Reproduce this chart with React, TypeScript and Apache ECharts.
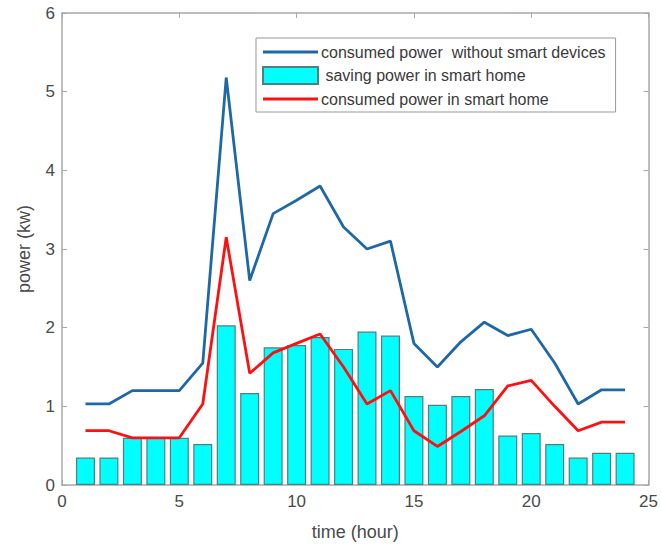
import React, { useEffect, useRef } from "react";
import * as echarts from "echarts";

const hours = [1, 2, 3, 4, 5, 6, 7, 8, 9, 10, 11, 12, 13, 14, 15, 16, 17, 18, 19, 20, 21, 22, 23, 24];
const withoutSmart = [1.03, 1.03, 1.2, 1.2, 1.2, 1.55, 5.18, 2.6, 3.45, 3.62, 3.8, 3.28, 3.0, 3.1, 1.8, 1.5, 1.82, 2.07, 1.9, 1.98, 1.55, 1.03, 1.21, 1.21];
const saving = [0.35, 0.35, 0.6, 0.6, 0.6, 0.52, 2.03, 1.17, 1.75, 1.78, 1.88, 1.73, 1.95, 1.9, 1.13, 1.02, 1.13, 1.22, 0.63, 0.66, 0.52, 0.35, 0.41, 0.41];
const smartHome = [0.69, 0.69, 0.6, 0.6, 0.6, 1.03, 3.15, 1.42, 1.68, 1.8, 1.92, 1.5, 1.03, 1.2, 0.69, 0.49, 0.68, 0.88, 1.26, 1.33, 1.0, 0.69, 0.8, 0.8];

const names = [
  "consumed power  without smart devices",
  " saving power in smart home",
  "consumed power in smart home",
];

const lineIcon = "path://M0,0 L55,0 L55,3.2 L0,3.2 Z";
const boxIcon = "path://M0,0 L55,0 L55,17 L0,17 Z";

export default function App() {
  const ref = useRef<HTMLDivElement>(null);
  useEffect(() => {
    if (!ref.current) return;
    const chart = echarts.init(ref.current, undefined, { renderer: "svg" });
    const frame = "#a8a8a8";
    const txt = "#4a4a4a";
    const font = "Arial, 'Liberation Sans', sans-serif";
    const blue = "#1f68a8";
    const red = "#ff1010";
    const axisCommon = {
      axisLine: { show: true, onZero: false, lineStyle: { color: frame, width: 1.5 } },
      axisTick: { show: true, inside: true, length: 5, lineStyle: { color: frame } },
      splitLine: { show: false },
    };
    chart.setOption({
      animation: false,
      backgroundColor: "#fff",
      textStyle: { fontFamily: font },
      grid: { left: 62, right: 8, top: 13, bottom: 59, containLabel: false },
      legend: {
        orient: "vertical",
        left: 256,
        top: 38,
        width: 400,
        padding: [6, 10, 5, 6],
        itemGap: 6,
        itemWidth: 55,
        itemHeight: 17,
        borderColor: "#999",
        borderWidth: 1,
        borderRadius: 0,
        backgroundColor: "#fff",
        data: [
          { name: names[0], icon: lineIcon, itemStyle: { color: blue } },
          { name: names[1], icon: boxIcon },
          { name: names[2], icon: lineIcon, itemStyle: { color: red } },
        ],
        textStyle: { fontSize: 16, color: "#3a3a3a", fontFamily: font, padding: [0, 0, 0, -2] },
      },
      xAxis: [
        {
          type: "value",
          min: 0,
          max: 25,
          interval: 5,
          name: "time (hour)",
          nameLocation: "middle",
          nameGap: 38,
          nameTextStyle: { fontSize: 18, color: txt, fontFamily: font },
          axisLabel: { fontSize: 17, color: txt, margin: 8 },
          ...axisCommon,
        },
        {
          type: "value",
          position: "top",
          min: 0,
          max: 25,
          interval: 5,
          axisLabel: { show: false },
          ...axisCommon,
        },
      ],
      yAxis: [
        {
          type: "value",
          min: 0,
          max: 6,
          interval: 1,
          name: "power (kw)",
          nameLocation: "middle",
          nameGap: 29,
          nameTextStyle: { fontSize: 18, color: txt, fontFamily: font },
          axisLabel: { fontSize: 17, color: txt, margin: 7 },
          ...axisCommon,
        },
        {
          type: "value",
          position: "right",
          min: 0,
          max: 6,
          interval: 1,
          axisLabel: { show: false },
          ...axisCommon,
        },
      ],
      series: [
        {
          name: names[1],
          type: "bar",
          barWidth: 19,
          data: hours.map((h, i) => [h, saving[i]]),
          itemStyle: { color: "#00ffff", borderColor: "#4f7f80", borderWidth: 1.2 },
          z: 1,
        },
        {
          name: names[0],
          type: "line",
          data: hours.map((h, i) => [h, withoutSmart[i]]),
          symbol: "none",
          lineStyle: { color: blue, width: 2.8 },
          itemStyle: { color: blue },
          z: 3,
        },
        {
          name: names[2],
          type: "line",
          data: hours.map((h, i) => [h, smartHome[i]]),
          symbol: "none",
          lineStyle: { color: red, width: 2.8 },
          itemStyle: { color: red },
          z: 4,
        },
      ],
    });
    return () => chart.dispose();
  }, []);
  return <div ref={ref} style={{ width: 661, height: 546, position: "absolute", left: 0, top: 0 }} />;
}
